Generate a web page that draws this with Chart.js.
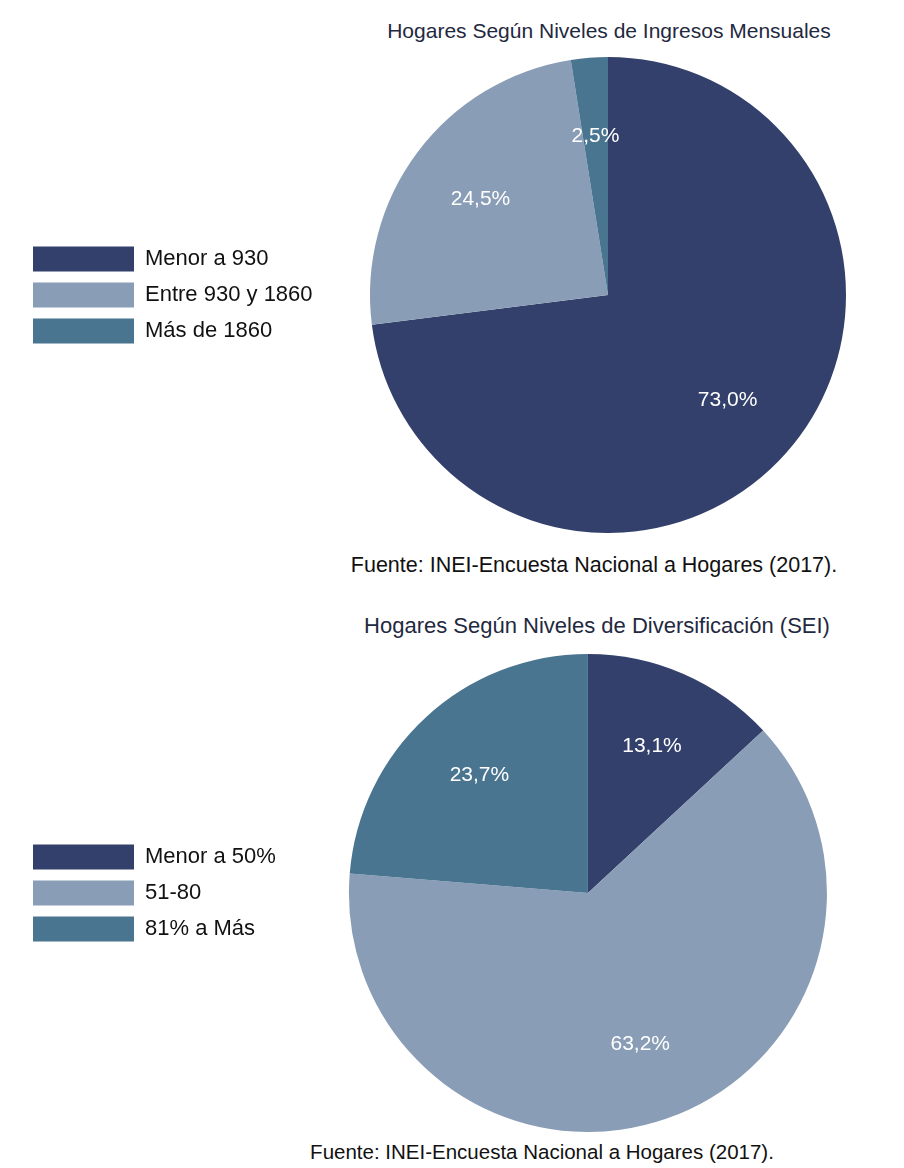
<!DOCTYPE html>
<html lang="es">
<head>
<meta charset="utf-8">
<title>Hogares según ingresos y diversificación</title>
<script src="https://cdn.jsdelivr.net/npm/chart.js@4.4.1/dist/chart.umd.min.js"></script>
<style>
  html, body { margin: 0; padding: 0; background: #fff; }
  body { width: 904px; height: 1168px; position: relative; overflow: hidden;
         font-family: "Liberation Sans", Arial, sans-serif; }
  .box { position: absolute; left: 0; width: 904px; }
  .title, .note { position: absolute; white-space: nowrap; line-height: 24px;
                  transform: translateX(-50%); }
  .title { color: #1f2940; }
  .note { color: #111; }
</style>
</head>
<body>

<div class="title" style="left:609px; top:19px; font-size:21px;">Hogares Según Niveles de Ingresos Mensuales</div>
<div class="box" style="top:57px; height:476px;"><canvas id="ingresosChart"></canvas></div>
<div class="note" style="left:594px; top:553px; font-size:21.5px;">Fuente: INEI-Encuesta Nacional a Hogares (2017).</div>

<div class="title" style="left:597px; top:614px; font-size:22px;">Hogares Según Niveles de Diversificación (SEI)</div>
<div class="box" style="top:654px; height:478px;"><canvas id="seiChart"></canvas></div>
<div class="note" style="left:542px; top:1140px; font-size:20.5px;">Fuente: INEI-Encuesta Nacional a Hogares (2017).</div>

<script>
// datos (porcentajes)
const ingresosLabels = ['Menor a 930', 'Entre 930 y 1860', 'Más de 1860'];
const ingresosValues = [73.0, 24.5, 2.5];

const seiLabels = ['Menor a 50%', '51-80', '81% a Más'];
const seiValues = [13.1, 63.2, 23.7];

const sliceColors = ['#32406b', '#8a9db6', '#4a7590'];

Chart.defaults.font.family = "'Liberation Sans', Arial, sans-serif";

function formatPct(v) {
  return v.toFixed(1).replace('.', ',') + '%';
}

// etiquetas blancas dentro de cada sector
const pctLabels = {
  id: 'pctLabels',
  afterDatasetsDraw(chart) {
    const ctx = chart.ctx;
    const meta = chart.getDatasetMeta(0);
    const values = chart.data.datasets[0].data;
    ctx.save();
    ctx.fillStyle = '#ffffff';
    ctx.font = "21px 'Liberation Sans', Arial, sans-serif";
    ctx.textAlign = 'center';
    ctx.textBaseline = 'middle';
    meta.data.forEach((arc, i) => {
      const p = arc.getProps(['x', 'y', 'startAngle', 'endAngle', 'outerRadius']);
      const mid = (p.startAngle + p.endAngle) / 2;
      const r = p.outerRadius * 0.67;
      ctx.fillText(formatPct(values[i]), p.x + Math.cos(mid) * r, p.y + Math.sin(mid) * r);
    });
    ctx.restore();
  }
};

// el ancho de la leyenda y el relleno derecho fijan el centro del pastel
function renderPie(canvasId, labels, values, padRight) {
  const ctx = document.getElementById(canvasId).getContext('2d');
  return new Chart(ctx, {
    type: 'pie',
    data: {
      labels: labels,
      datasets: [{
        data: values,
        backgroundColor: sliceColors,
        borderWidth: 0,
        hoverOffset: 0
      }]
    },
    options: {
      responsive: true,
      maintainAspectRatio: false,
      animation: false,
      devicePixelRatio: 1,
      layout: { padding: { left: 22, right: padRight, top: 0, bottom: 0 } },
      plugins: {
        tooltip: { enabled: false },
        legend: {
          position: 'left',
          align: 'center',
          maxWidth: 290,
          labels: {
            boxWidth: 101,
            boxHeight: 25,
            padding: 11,
            color: '#111111',
            font: { size: 22 }
          }
        }
      },
      events: []
    },
    plugins: [pctLabels]
  });
}

renderPie('ingresosChart', ingresosLabels, ingresosValues, 0);
renderPie('seiChart', seiLabels, seiValues, 14);
</script>
</body>
</html>
